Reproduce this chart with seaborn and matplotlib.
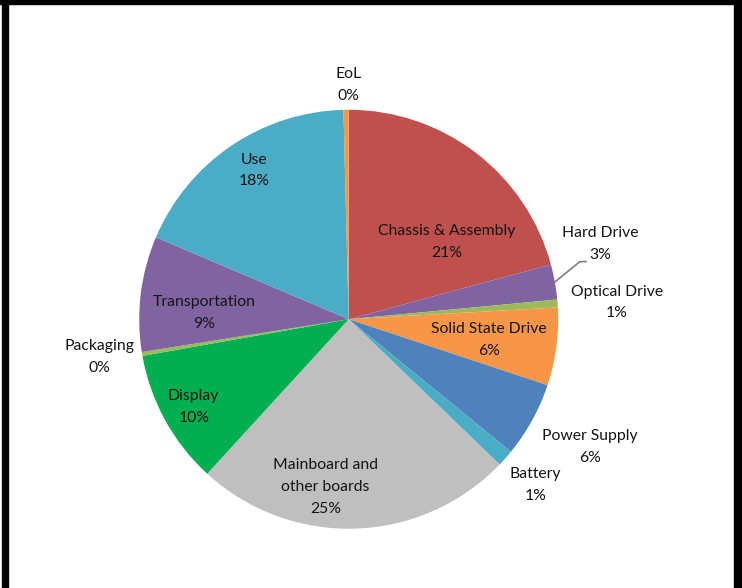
import numpy as np
import seaborn as sns
import matplotlib.pyplot as plt
from matplotlib.patches import Rectangle

sns.set_theme(style="white")
plt.rcParams['font.family'] = ['Lato', 'DejaVu Sans']

# slices, clockwise from 12 o'clock
labels = ["Chassis & Assembly", "Hard Drive", "Optical Drive", "Solid State Drive",
          "Power Supply", "Battery", "Mainboard and\nother boards", "Display",
          "Packaging", "Transportation", "Use", "EoL"]
shares = [20.8, 2.7, 0.6, 6.0, 5.8, 1.3, 24.6, 10.4, 0.3, 8.9, 18.2, 0.4]
colors = ["#C0504D", "#8064A2", "#9BBB59", "#F79646", "#4F81BD", "#4BACC6",
          "#BFBFBF", "#00B050", "#9BBB59", "#8064A2", "#4BACC6", "#F79646"]

# label centres in pie units (radius = 1)
label_pos = [(0.47, 0.37), (1.20, 0.36), (1.28, 0.08), (0.67, -0.10),
             (1.15, -0.61), (0.89, -0.79), (-0.11, -0.80), (-0.74, -0.42),
             (-1.19, -0.18), (-0.69, 0.03), (-0.45, 0.71), (0.0, 1.12)]

fig = plt.figure(figsize=(7.42, 5.88), dpi=100)
ax = fig.add_axes([0, 0, 1, 1])

wedges, _ = ax.pie(shares, colors=colors, startangle=90, counterclock=False,
                   radius=1.0, wedgeprops=dict(linewidth=0))

for lab, val, (x, y) in zip(labels, shares, label_pos):
    ax.text(x, y, f"{lab}\n{round(val):.0f}%", ha="center", va="center",
            fontsize=11.3, color="#141414", linespacing=1.72)

# leader line for Hard Drive
w = wedges[1]
mid = np.deg2rad((w.theta1 + w.theta2) / 2)
x0, y0 = np.cos(mid), np.sin(mid)
ax.plot([x0, 1.104, 1.133], [y0, 0.275, 0.275], color="#7F7F7F", lw=1.2)

ax.set_xlim(-1.664, 1.877)
ax.set_ylim(-1.283, 1.524)
ax.set_aspect("equal")
ax.axis("off")

# black frame
W, H = 742, 588
fig.patches.append(Rectangle((0, 1 - 4 / H), 1, 4 / H, transform=fig.transFigure, color="black"))
fig.patches.append(Rectangle((2 / W, 0), 6 / W, 1, transform=fig.transFigure, color="black"))
fig.patches.append(Rectangle((734 / W, 0), 8 / W, 1, transform=fig.transFigure, color="black"))

fig.savefig("out.png", dpi=100)
